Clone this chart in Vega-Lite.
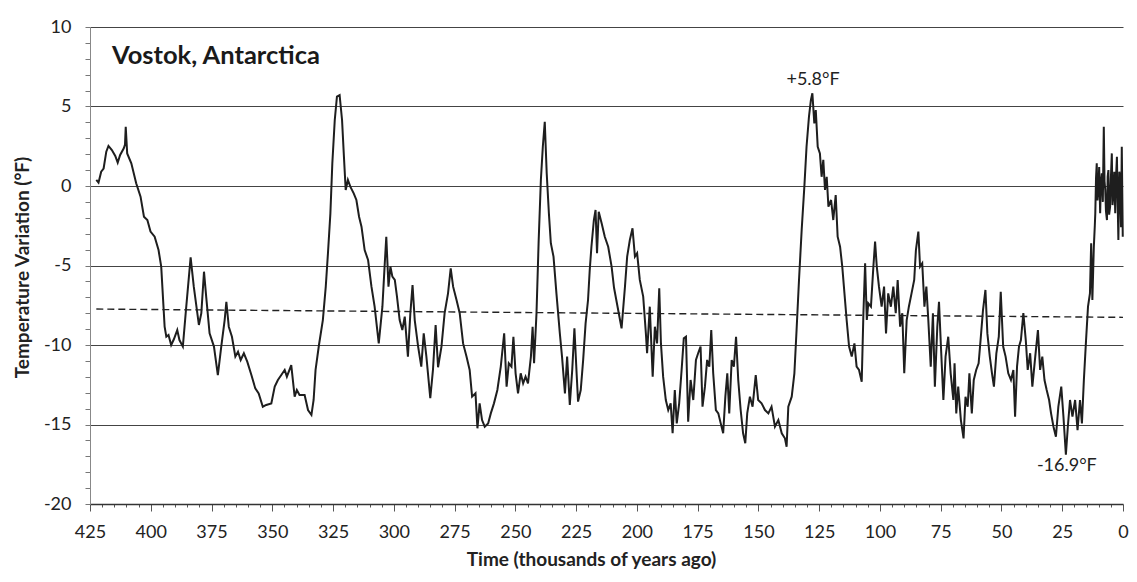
{
  "$schema": "https://vega.github.io/schema/vega-lite/v6.json",
  "width": 1033,
  "height": 477,
  "autosize": {"type": "none"},
  "padding": {"left": 90, "top": 27, "right": 14, "bottom": 78},
  "background": "white",
  "config": {"view": {"stroke": null}, "font": "Lato"},
  "title": {"text": "Vostok, Antarctica", "anchor": "start", "frame": "group", "orient": "top", "font": "Lato", "fontSize": 25.5, "fontWeight": "bold", "color": "#1a1a1a", "baseline": "alphabetic", "offset": 0, "dx": 22, "dy": 71},
  "datasets": {
    "vostok": [
      {"age":422.4,"temp":0.38},{"age":421.5,"temp":0.21},{"age":420.4,"temp":0.9},{"age":419.4,"temp":1.1},{"age":418.3,"temp":2.16},{"age":417.4,"temp":2.52},{"age":416.0,"temp":2.26},{"age":414.6,"temp":1.89},{"age":413.6,"temp":1.47},{"age":412.6,"temp":1.95},{"age":411.1,"temp":2.37},{"age":410.6,"temp":2.6},{"age":410.3,"temp":3.73},{"age":409.7,"temp":2.05},{"age":408.0,"temp":1.43},{"age":406.0,"temp":0.17},{"age":404.2,"temp":-0.67},{"age":402.8,"temp":-1.93},{"age":401.4,"temp":-2.14},{"age":400.1,"temp":-2.87},{"age":398.4,"temp":-3.19},{"age":396.8,"temp":-4.03},{"age":395.7,"temp":-5.07},{"age":395.0,"temp":-6.96},{"age":394.3,"temp":-8.85},{"age":393.6,"temp":-9.48},{"age":392.7,"temp":-9.37},{"age":391.6,"temp":-10.0},{"age":390.5,"temp":-9.64},{"age":389.1,"temp":-9.06},{"age":388.2,"temp":-9.69},{"age":386.8,"temp":-10.1},{"age":385.4,"temp":-7.59},{"age":383.6,"temp":-4.49},{"age":382.3,"temp":-6.33},{"age":380.2,"temp":-8.74},{"age":379.2,"temp":-8.0},{"age":378.1,"temp":-5.39},{"age":377.2,"temp":-6.96},{"age":375.8,"temp":-9.27},{"age":374.0,"temp":-10.1},{"age":372.4,"temp":-11.89},{"age":371.0,"temp":-10.1},{"age":369.6,"temp":-8.43},{"age":368.9,"temp":-7.28},{"age":367.9,"temp":-8.85},{"age":366.6,"temp":-9.48},{"age":365.2,"temp":-10.73},{"age":364.1,"temp":-10.42},{"age":363.0,"temp":-10.94},{"age":361.7,"temp":-10.52},{"age":360.3,"temp":-11.05},{"age":358.6,"temp":-11.89},{"age":357.0,"temp":-12.73},{"age":355.6,"temp":-13.04},{"age":353.9,"temp":-13.88},
      {"age":352.5,"temp":-13.77},{"age":350.4,"temp":-13.67},{"age":349.0,"temp":-12.62},{"age":347.7,"temp":-12.2},{"age":346.3,"temp":-11.89},{"age":344.9,"temp":-11.57},{"age":344.0,"temp":-11.99},{"age":342.2,"temp":-11.26},{"age":340.8,"temp":-13.25},{"age":339.9,"temp":-12.83},{"age":338.8,"temp":-13.14},{"age":336.7,"temp":-13.14},{"age":335.3,"temp":-14.09},{"age":333.9,"temp":-14.4},{"age":333.0,"temp":-13.46},{"age":332.2,"temp":-11.57},{"age":330.8,"temp":-10.0},{"age":329.2,"temp":-8.43},{"age":328.0,"temp":-6.33},{"age":327.1,"temp":-4.23},{"age":326.1,"temp":-1.72},{"age":325.3,"temp":1.43},{"age":324.3,"temp":4.15},{"age":323.4,"temp":5.62},{"age":322.3,"temp":5.72},{"age":321.3,"temp":4.15},{"age":320.6,"temp":2.05},{"age":319.8,"temp":-0.25},{"age":318.9,"temp":0.38},{"age":317.9,"temp":-0.04},{"age":316.5,"temp":-0.46},{"age":315.4,"temp":-0.88},{"age":314.3,"temp":-1.93},{"age":313.3,"temp":-2.56},{"age":312.0,"temp":-4.03},{"age":310.6,"temp":-4.65},{"age":309.2,"temp":-6.33},{"age":307.9,"temp":-7.59},{"age":306.2,"temp":-9.9},{"age":304.7,"temp":-7.59},{"age":303.8,"temp":-5.07},{"age":303.1,"temp":-3.19},{"age":302.2,"temp":-6.33},{"age":301.4,"temp":-5.07},{"age":300.6,"temp":-5.7},{"age":299.6,"temp":-5.91},{"age":298.7,"temp":-6.96},{"age":297.6,"temp":-8.43},{"age":296.5,"temp":-9.06},{"age":295.5,"temp":-8.22},{"age":294.2,"temp":-10.73},{"age":293.2,"temp":-8.0},{"age":292.3,"temp":-6.23},{"age":291.4,"temp":-8.43},{"age":290.0,"temp":-10.1},{"age":288.7,"temp":-11.36},{"age":287.7,"temp":-9.27},{"age":286.6,"temp":-10.73},{"age":285.0,"temp":-13.35},{"age":283.9,"temp":-11.57},{"age":282.8,"temp":-8.74},{"age":281.8,"temp":-11.4},
      {"age":280.4,"temp":-10.1},{"age":279.1,"temp":-8.0},{"age":277.7,"temp":-6.75},{"age":276.6,"temp":-5.18},{"age":275.6,"temp":-6.33},{"age":274.2,"temp":-7.17},{"age":272.9,"temp":-8.0},{"age":271.5,"temp":-9.9},{"age":270.1,"temp":-10.73},{"age":268.8,"temp":-11.57},{"age":267.8,"temp":-13.25},{"age":266.4,"temp":-13.04},{"age":265.6,"temp":-15.24},{"age":264.7,"temp":-13.67},{"age":263.7,"temp":-14.72},{"age":262.6,"temp":-15.14},{"age":261.2,"temp":-14.93},{"age":260.1,"temp":-14.3},{"age":258.8,"temp":-13.67},{"age":257.4,"temp":-12.83},{"age":256.0,"temp":-11.36},{"age":254.6,"temp":-9.27},{"age":253.6,"temp":-12.62},{"age":252.7,"temp":-11.15},{"age":251.6,"temp":-11.36},{"age":250.8,"temp":-9.48},{"age":249.9,"temp":-11.78},{"age":248.9,"temp":-13.04},{"age":247.8,"temp":-11.78},{"age":246.8,"temp":-12.41},{"age":245.8,"temp":-11.99},{"age":244.8,"temp":-12.41},{"age":243.6,"temp":-10.73},{"age":242.9,"temp":-8.85},{"age":242.3,"temp":-11.15},{"age":241.3,"temp":-8.0},{"age":240.4,"temp":-3.4},{"age":239.5,"temp":0.38},{"age":238.7,"temp":2.47},{"age":237.9,"temp":4.04},{"age":237.1,"temp":0.8},{"age":236.2,"temp":-1.72},{"age":235.4,"temp":-3.6},{"age":234.3,"temp":-4.44},{"age":233.1,"temp":-6.75},{"age":231.7,"temp":-9.27},{"age":230.8,"temp":-10.73},{"age":229.6,"temp":-13.04},{"age":228.7,"temp":-10.73},{"age":227.6,"temp":-13.77},{"age":226.6,"temp":-11.57},{"age":225.7,"temp":-8.95},{"age":224.8,"temp":-11.78},{"age":224.2,"temp":-13.56},{"age":223.1,"temp":-12.83},{"age":222.1,"temp":-10.94},{"age":221.1,"temp":-8.64},{"age":220.1,"temp":-7.17},{"age":219.4,"temp":-5.28},{"age":218.7,"temp":-3.82},{"age":217.7,"temp":-2.14},{"age":217.0,"temp":-1.51},{"age":216.4,"temp":-4.23},{"age":215.7,"temp":-1.62},{"age":214.5,"temp":-2.35},{"age":213.2,"temp":-3.19},{"age":211.8,"temp":-3.82},{"age":210.4,"temp":-5.07},{"age":209.4,"temp":-6.4},{"age":207.7,"temp":-7.8},{"age":206.3,"temp":-8.95},{"age":204.9,"temp":-6.33},{"age":204.0,"temp":-4.44},{"age":202.9,"temp":-3.4},{"age":201.8,"temp":-2.66},{"age":200.8,"temp":-4.44},{"age":199.9,"temp":-4.23},{"age":198.8,"temp":-5.91},{"age":197.4,"temp":-6.96},{"age":196.3,"temp":-9.27},{"age":195.8,"temp":-10.52},{"age":194.7,"temp":-7.59},{"age":193.5,"temp":-11.99},{"age":192.6,"temp":-8.85},{"age":191.7,"temp":-9.9},{"age":190.8,"temp":-6.44},{"age":190.1,"temp":-9.9},{"age":189.2,"temp":-11.99},{"age":188.1,"temp":-13.46},{"age":187.1,"temp":-14.09},{"age":186.1,"temp":-13.67},{"age":185.3,"temp":-15.55},{"age":184.4,"temp":-12.83},{"age":183.6,"temp":-14.93},{"age":182.6,"temp":-13.67},{"age":181.6,"temp":-11.57},{"age":180.7,"temp":-9.58},{"age":179.8,"temp":-9.48},{"age":178.9,"temp":-14.82},{"age":177.9,"temp":-12.2},{"age":176.8,"temp":-13.46},{"age":175.7,"temp":-10.94},{"age":174.8,"temp":-10.52},{"age":173.8,"temp":-10.1},{"age":173.0,"temp":-13.88},{"age":172.0,"temp":-12.62},{"age":171.1,"temp":-10.94},{"age":170.2,"temp":-11.36},{"age":169.4,"temp":-9.06},{"age":168.6,"temp":-11.78},{"age":167.5,"temp":-14.09},{"age":166.5,"temp":-14.3},{"age":165.5,"temp":-14.93},{"age":164.5,"temp":-15.55},{"age":163.6,"temp":-13.25},{"age":162.8,"temp":-11.78},{"age":162.0,"temp":-14.3},{"age":161.0,"temp":-10.94},{"age":160.1,"temp":-11.36},{"age":159.2,"temp":-9.48},{"age":158.3,"temp":-12.2},{"age":157.3,"temp":-14.09},{"age":156.3,"temp":-15.55},{"age":155.4,"temp":-16.18},{"age":154.6,"temp":-14.3},{"age":153.5,"temp":-13.25},{"age":152.4,"temp":-13.88},{"age":151.1,"temp":-11.89},{"age":150.1,"temp":-13.46},{"age":148.7,"temp":-13.67},{"age":147.3,"temp":-14.09},{"age":145.9,"temp":-14.3},{"age":144.6,"temp":-13.88},{"age":143.2,"temp":-15.14},{"age":141.8,"temp":-14.72},{"age":140.4,"temp":-15.55},{"age":139.1,"temp":-15.87},{"age":138.4,"temp":-16.4},{"age":137.7,"temp":-13.88},{"age":136.3,"temp":-13.25},{"age":135.2,"temp":-11.78},{"age":134.3,"temp":-9.06},{"age":133.3,"temp":-5.91},{"age":132.2,"temp":-2.77},{"age":131.1,"temp":-0.04},{"age":130.2,"temp":2.47},{"age":129.2,"temp":4.36},{"age":128.4,"temp":5.41},{"age":127.8,"temp":5.83},{"age":127.0,"temp":3.94},{"age":126.4,"temp":4.78},{"age":125.6,"temp":2.47},{"age":124.7,"temp":2.05},{"age":124.0,"temp":0.58},{"age":123.3,"temp":1.64},{"age":122.6,"temp":-0.25},{"age":121.9,"temp":0.58},{"age":121.2,"temp":-1.3},{"age":120.1,"temp":-0.88},{"age":119.2,"temp":-2.14},{"age":118.2,"temp":-0.57},{"age":117.4,"temp":-3.19},{"age":116.4,"temp":-3.82},{"age":115.5,"temp":-5.07},{"age":114.6,"temp":-6.75},{"age":113.7,"temp":-8.43},{"age":112.7,"temp":-10.1},{"age":111.6,"temp":-10.73},{"age":110.5,"temp":-9.9},{"age":109.6,"temp":-11.36},{"age":108.6,"temp":-11.57},{"age":107.5,"temp":-12.31},{"age":106.8,"temp":-8.0},{"age":106.1,"temp":-4.86},{"age":105.4,"temp":-8.43},{"age":104.8,"temp":-7.38},{"age":103.7,"temp":-7.59},{"age":102.7,"temp":-5.07},{"age":102.0,"temp":-3.5},{"age":101.3,"temp":-5.07},{"age":100.4,"temp":-6.33},{"age":99.3,"temp":-7.59},{"age":98.3,"temp":-6.33},{"age":97.5,"temp":-9.27},{"age":96.6,"temp":-6.75},{"age":95.5,"temp":-7.59},{"age":94.5,"temp":-6.33},{"age":93.5,"temp":-8.0},{"age":92.7,"temp":-5.91},{"age":91.7,"temp":-8.85},{"age":90.8,"temp":-8.0},{"age":90.0,"temp":-11.78},{"age":89.0,"temp":-8.43},{"age":88.1,"temp":-7.59},{"age":87.0,"temp":-6.75},{"age":85.9,"temp":-5.91},{"age":85.2,"temp":-4.03},{"age":84.2,"temp":-2.87},{"age":83.5,"temp":-5.07},{"age":82.6,"temp":-4.86},{"age":81.7,"temp":-7.59},{"age":80.9,"temp":-6.33},{"age":80.1,"temp":-8.43},{"age":79.1,"temp":-11.36},{"age":78.2,"temp":-8.0},{"age":77.4,"temp":-12.62},{"age":76.4,"temp":-8.85},{"age":75.7,"temp":-7.28},{"age":74.9,"temp":-10.1},{"age":73.9,"temp":-13.46},{"age":73.0,"temp":-10.73},{"age":71.9,"temp":-9.48},{"age":70.9,"temp":-11.78},{"age":69.8,"temp":-13.46},{"age":69.3,"temp":-11.15},{"age":68.6,"temp":-14.3},{"age":67.8,"temp":-12.62},{"age":66.7,"temp":-14.72},{"age":65.6,"temp":-15.87},{"age":64.8,"temp":-13.25},{"age":63.9,"temp":-13.88},{"age":63.2,"temp":-11.78},{"age":62.2,"temp":-14.3},{"age":61.4,"temp":-12.2},{"age":60.4,"temp":-11.57},{"age":59.4,"temp":-11.15},{"age":58.6,"temp":-9.69},{"age":57.6,"temp":-7.8},{"age":56.6,"temp":-6.54},{"age":55.8,"temp":-9.27},{"age":54.8,"temp":-10.73},{"age":53.9,"temp":-11.78},{"age":53.1,"temp":-12.62},{"age":52.1,"temp":-10.52},{"age":51.1,"temp":-9.48},{"age":50.3,"temp":-6.65},{"age":49.3,"temp":-10.1},{"age":48.3,"temp":-10.73},{"age":47.2,"temp":-11.78},{"age":46.1,"temp":-12.2},{"age":45.1,"temp":-11.57},{"age":44.4,"temp":-14.51},{"age":43.6,"temp":-11.36},{"age":42.8,"temp":-10.1},{"age":42.0,"temp":-9.69},{"age":41.0,"temp":-8.0},{"age":40.0,"temp":-9.69},{"age":39.2,"temp":-11.57},{"age":38.2,"temp":-10.52},{"age":37.3,"temp":-12.62},{"age":36.1,"temp":-10.73},{"age":35.0,"temp":-9.06},{"age":34.1,"temp":-11.57},{"age":33.2,"temp":-10.73},{"age":32.3,"temp":-12.2},{"age":31.4,"temp":-12.83},{"age":30.4,"temp":-13.46},{"age":29.6,"temp":-14.3},{"age":28.6,"temp":-15.14},{"age":27.6,"temp":-15.77},{"age":26.6,"temp":-13.88},{"age":25.4,"temp":-12.62},{"age":24.5,"temp":-14.51},{"age":23.5,"temp":-16.9},{"age":22.7,"temp":-15.14},{"age":21.8,"temp":-13.46},{"age":20.8,"temp":-14.51},{"age":19.7,"temp":-13.46},{"age":18.7,"temp":-15.35},{"age":17.7,"temp":-13.46},{"age":16.9,"temp":-14.93},{"age":16.1,"temp":-12.2},{"age":15.2,"temp":-9.69},{"age":14.4,"temp":-7.59},{"age":13.6,"temp":-6.75},{"age":13.1,"temp":-3.6},{"age":12.6,"temp":-7.17},{"age":12.0,"temp":-3.82},{"age":11.6,"temp":-2.5},{"age":11.4,"temp":-1.72},{"age":11.1,"temp":0.5},{"age":10.8,"temp":1.43},{"age":10.5,"temp":-0.9},{"age":10.1,"temp":-0.04},{"age":9.8,"temp":1.2},{"age":9.4,"temp":-1.72},{"age":9.1,"temp":0.2},{"age":8.7,"temp":0.8},{"age":8.3,"temp":-1.0},{"age":7.9,"temp":3.73},{"age":7.6,"temp":0.3},{"age":7.3,"temp":-0.25},{"age":7.0,"temp":-1.6},{"age":6.6,"temp":-2.14},{"age":6.3,"temp":0.6},{"age":6.0,"temp":1.0},{"age":5.7,"temp":-1.8},{"age":5.3,"temp":-1.3},{"age":5.0,"temp":0.4},{"age":4.6,"temp":2.05},{"age":4.3,"temp":-1.2},{"age":3.9,"temp":-0.46},{"age":3.6,"temp":0.9},{"age":3.2,"temp":-1.72},{"age":2.9,"temp":0.4},{"age":2.5,"temp":1.84},{"age":2.2,"temp":-1.0},{"age":1.9,"temp":-3.4},{"age":1.5,"temp":0.9},{"age":1.2,"temp":0.38},{"age":0.8,"temp":-2.6},{"age":0.5,"temp":2.47},{"age":0.1,"temp":-3.19}
    ],
    "trend": [{"age": 422.4, "temp": -7.74}, {"age": 0, "temp": -8.26}],
    "notes": [{"age": 127.5, "temp": 6.67, "label": "+5.8°F"}, {"age": 23.1, "temp": -17.6, "label": "-16.9°F"}]
  },
  "layer": [
    {
      "data": {"name": "vostok"},
      "mark": {"type": "line", "color": "#1e1e1e", "strokeWidth": 2, "strokeJoin": "miter"},
      "encoding": {
        "x": {
          "field": "age", "type": "quantitative",
          "scale": {"domain": [0, 425], "reverse": true, "nice": false, "zero": false},
          "title": "Time (thousands of years ago)",
          "axis": {
            "values": [0,5,10,15,20,25,30,35,40,45,50,55,60,65,70,75,80,85,90,95,100,105,110,115,120,125,130,135,140,145,150,155,160,165,170,175,180,185,190,195,200,205,210,215,220,225,230,235,240,245,250,255,260,265,270,275,280,285,290,295,300,305,310,315,320,325,330,335,340,345,350,355,360,365,370,375,380,385,390,395,400,405,410,415,420,425],
            "tickCount": 200,
            "labelExpr": "datum.value % 25 === 0 ? toString(datum.value) : ''",
            "labelOverlap": false, "labelFlush": false, "labelBound": false,
            "grid": false,
            "domainColor": "#333333", "domainWidth": 1.3,
            "tickColor": "#555555", "tickWidth": 1,
            "tickSize": {"condition": {"test": "datum.value % 25 === 0", "value": 7}, "value": 3},
            "labelFont": "Lato", "labelFontSize": 18, "labelColor": "#222222", "labelPadding": 12,
            "titleFont": "Lato", "titleFontSize": 19, "titleFontWeight": "bold", "titleColor": "#222222",
            "titleX": 501, "titleY": 55, "titleBaseline": "middle", "titleAlign": "center"
          }
        },
        "y": {
          "field": "temp", "type": "quantitative",
          "scale": {"domain": [-20, 10], "nice": false, "zero": false},
          "title": "Temperature Variation (°F)",
          "axis": {
            "values": [-20,-19,-18,-17,-16,-15,-14,-13,-12,-11,-10,-9,-8,-7,-6,-5,-4,-3,-2,-1,0,1,2,3,4,5,6,7,8,9,10],
            "tickCount": 100,
            "labelExpr": "datum.value % 5 === 0 ? toString(datum.value) : ''",
            "labelOverlap": false, "labelFlush": false, "labelBound": false,
            "grid": true, "gridColor": "#444444", "gridWidth": 1.2,
            "gridOpacity": {"condition": {"test": "datum.value % 5 === 0 && datum.value > -20", "value": 1}, "value": 0},
            "domainColor": "#888888", "domainWidth": 1,
            "tickColor": "#777777", "tickWidth": 1, "tickSize": 5,
            "labelFont": "Lato", "labelFontSize": 18, "labelColor": "#222222", "labelPadding": 14,
            "titleFont": "Lato", "titleFontSize": 19, "titleFontWeight": "bold", "titleColor": "#222222",
            "titleX": -68, "titleY": 240, "titleBaseline": "middle", "titleAlign": "center", "titleAngle": 270
          }
        }
      }
    },
    {
      "data": {"name": "trend"},
      "mark": {"type": "line", "color": "#222222", "strokeWidth": 1.4, "strokeDash": [7, 4]},
      "encoding": {
        "x": {"field": "age", "type": "quantitative"},
        "y": {"field": "temp", "type": "quantitative"}
      }
    },
    {
      "data": {"name": "notes"},
      "mark": {"type": "text", "font": "Lato", "fontSize": 18, "color": "#222222", "align": "center", "baseline": "middle"},
      "encoding": {
        "x": {"field": "age", "type": "quantitative"},
        "y": {"field": "temp", "type": "quantitative"},
        "text": {"field": "label"}
      }
    }
  ]
}
